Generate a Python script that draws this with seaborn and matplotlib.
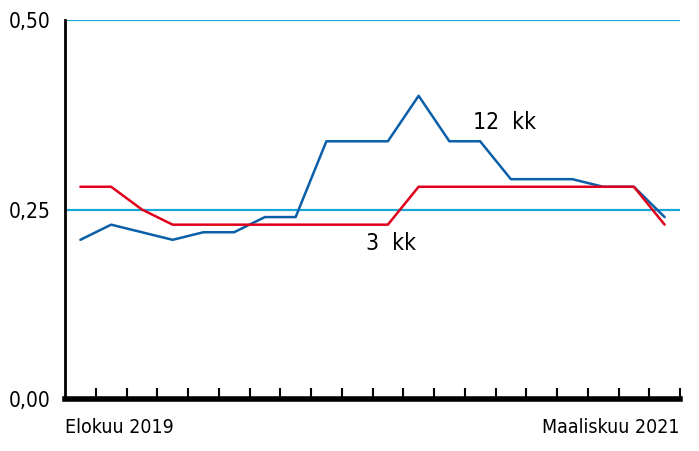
import numpy as np
import pandas as pd
import matplotlib
matplotlib.use("Agg")
import matplotlib.pyplot as plt
import seaborn as sns

months = ['2019-08', '2019-09', '2019-10', '2019-11', '2019-12',
          '2020-01', '2020-02', '2020-03', '2020-04', '2020-05',
          '2020-06', '2020-07', '2020-08', '2020-09', '2020-10',
          '2020-11', '2020-12', '2021-01', '2021-02', '2021-03']
euribor_12kk = [0.21, 0.23, 0.22, 0.21, 0.22, 0.22, 0.24, 0.24, 0.34, 0.34,
                0.34, 0.40, 0.34, 0.34, 0.29, 0.29, 0.29, 0.28, 0.28, 0.24]
euribor_3kk = [0.28, 0.28, 0.25, 0.23, 0.23, 0.23, 0.23, 0.23, 0.23, 0.23,
               0.23, 0.28, 0.28, 0.28, 0.28, 0.28, 0.28, 0.28, 0.28, 0.23]
y_ticks = [0.0, 0.25, 0.5]
y_labels = ['0,00', '0,25', '0,50']
x_first_label = 'Elokuu 2019'
x_last_label = 'Maaliskuu 2021'

sns.set_style("white")
plt.rcParams['font.family'] = ['DejaVu Sans']
plt.rcParams['font.stretch'] = 'condensed'
plt.rcParams['text.color'] = 'black'
plt.rcParams['ytick.color'] = 'black'

df = pd.DataFrame({
    'idx': list(range(len(months))) * 2,
    'arvo': euribor_12kk + euribor_3kk,
    'sarja': ['12 kk'] * len(months) + ['3 kk'] * len(months),
})

fig = plt.figure(figsize=(6.99, 4.51), dpi=100)
ax = fig.add_axes([65 / 699, 52 / 451, 615 / 699, 379 / 451])

for y in [0.25, 0.5]:
    ax.axhline(y, color='#1aa9d6', lw=1.6, zorder=1)

sns.lineplot(data=df, x='idx', y='arvo', hue='sarja',
             palette={'12 kk': '#0b5ea8', '3 kk': '#e0001b'},
             lw=1.8, legend=False, ax=ax, zorder=3)

ax.set_xlim(-0.5, len(months) - 0.5)
ax.set_ylim(0, 0.5)
ax.set_xlabel('')
ax.set_ylabel('')

ax.set_yticks(y_ticks)
ax.set_yticklabels(y_labels, fontsize=15)
ax.set_xticks(np.arange(len(months)) + 0.5)
ax.set_xticklabels([])
ax.tick_params(axis='x', bottom=True, direction='in', length=8, width=1.5,
               color='black')
ax.tick_params(axis='y', left=False, pad=7)

for s in ['top', 'right']:
    ax.spines[s].set_visible(False)
ax.spines['left'].set_linewidth(2)
ax.spines['left'].set_color('black')
ax.spines['bottom'].set_linewidth(4)
ax.spines['bottom'].set_color('black')

ax.text(-0.5, -0.025, x_first_label, ha='left', va='top', fontsize=14)
ax.text(len(months) - 0.5, -0.025, x_last_label, ha='right', va='top',
        fontsize=14)

ax.text(13.8, 0.365, '12  kk', ha='center', va='center', fontsize=16.5)
ax.text(10.1, 0.205, '3  kk', ha='center', va='center', fontsize=16.5)

fig.savefig('out.png', dpi=100)
